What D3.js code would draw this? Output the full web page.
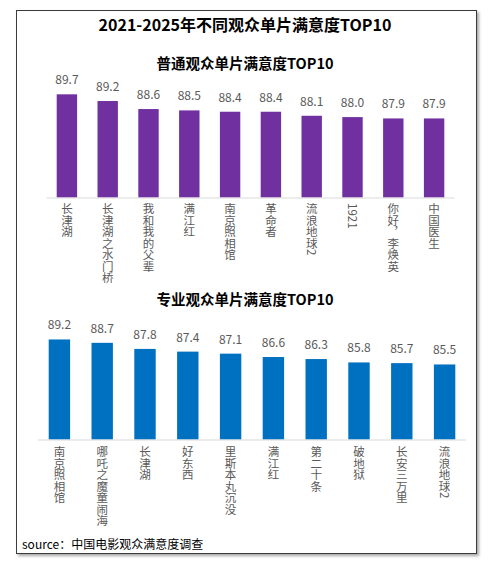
<!DOCTYPE html>
<html>
<head>
<meta charset="utf-8">
<script src="https://cdn.jsdelivr.net/npm/d3@7"></script>
<style>
  html, body { margin: 0; padding: 0; background: #fff; }
  svg { display: block; font-family: "Noto Sans CJK SC", "Noto Sans", sans-serif; }
</style>
</head>
<body>
<div id="chart"></div>
<script>
// 普通观众
const generalFilms = ["长津湖", "长津湖之水门桥", "我和我的父辈", "满江红", "南京照相馆", "革命者", "流浪地球2", "1921", "你好，李焕英", "中国医生"];
const generalScores = [89.7, 89.2, 88.6, 88.5, 88.4, 88.4, 88.1, 88.0, 87.9, 87.9];

// 专业观众
const proFilms = ["南京照相馆", "哪吒之魔童闹海", "长津湖", "好东西", "里斯本丸沉没", "满江红", "第二十条", "破地狱", "长安三万里", "流浪地球2"];
const proScores = [89.2, 88.7, 87.8, 87.4, 87.1, 86.6, 86.3, 85.8, 85.7, 85.5];

const mainTitle = "2021-2025年不同观众单片满意度TOP10";
const generalTitle = "普通观众单片满意度TOP10";
const proTitle = "专业观众单片满意度TOP10";
const sourceText = "source：中国电影观众满意度调查";

const width = 489, height = 565;

const svg = d3.select("#chart").append("svg")
    .attr("width", width)
    .attr("height", height);

const defs = svg.append("defs");
const shadow = defs.append("filter")
    .attr("id", "shadow")
    .attr("x", "-5%").attr("y", "-5%")
    .attr("width", "110%").attr("height", "110%");
shadow.append("feDropShadow")
    .attr("dx", 2).attr("dy", 2)
    .attr("stdDeviation", 1.5)
    .attr("flood-color", "#000")
    .attr("flood-opacity", 0.35);

// outer frame
svg.append("rect")
    .attr("x", 16.5).attr("y", 10.5)
    .attr("width", 460).attr("height", 543)
    .attr("fill", "#fff")
    .attr("stroke", "#3a3a3a")
    .attr("stroke-width", 1)
    .attr("filter", "url(#shadow)");

svg.append("text")
    .attr("x", 245).attr("y", 31)
    .attr("text-anchor", "middle")
    .style("font-size", "16px")
    .style("font-weight", "bold")
    .style("fill", "#000")
    .text(mainTitle);

function drawPanel(opts) {
    const g = svg.append("g");

    g.append("text")
        .attr("x", 245).attr("y", opts.titleY)
        .attr("text-anchor", "middle")
        .style("font-size", "14.5px")
        .style("font-weight", "bold")
        .style("fill", "#000")
        .text(opts.title);

    const x = d3.scaleBand()
        .domain(opts.films)
        .range(opts.xRange)
        .paddingInner(0.5)
        .paddingOuter(0.25);

    const y = d3.scaleLinear()
        .domain(opts.yDomain)
        .range([opts.baseline, opts.baseline - (opts.yDomain[1] - opts.yDomain[0]) * opts.pxPerUnit]);

    const data = opts.films.map((f, i) => ({ film: f, value: opts.scores[i] }));

    g.selectAll("rect.bar")
        .data(data)
        .enter()
        .append("rect")
        .attr("class", "bar")
        .attr("x", d => x(d.film))
        .attr("y", d => y(d.value))
        .attr("width", x.bandwidth())
        .attr("height", d => y(opts.yDomain[0]) - y(d.value))
        .style("fill", opts.color);

    // axis line
    g.append("line")
        .attr("x1", opts.xRange[0]).attr("x2", opts.xRange[1])
        .attr("y1", opts.baseline + 0.5).attr("y2", opts.baseline + 0.5)
        .attr("stroke", "#d9d9d9")
        .attr("stroke-width", 1);

    g.selectAll("text.value")
        .data(data)
        .enter()
        .append("text")
        .attr("class", "value")
        .attr("x", d => x(d.film) + x.bandwidth() / 2)
        .attr("y", d => y(d.value) - 10)
        .attr("text-anchor", "middle")
        .style("font-size", "12px")
        .style("fill", "#595959")
        .text(d => d.value.toFixed(1));

    g.selectAll("text.cat")
        .data(data)
        .enter()
        .append("text")
        .attr("class", "cat")
        .attr("x", d => x(d.film) + x.bandwidth() / 2)
        .attr("y", opts.labelTop)
        .style("writing-mode", "vertical-rl")
        .style("font-size", "11.5px")
        .style("fill", "#595959")
        .text(d => d.film);
}

drawPanel({
    films: generalFilms,
    scores: generalScores,
    color: "#7030a0",
    title: generalTitle,
    titleY: 69,
    xRange: [46.5, 454.5],
    baseline: 197.5,
    yDomain: [82, 90],
    pxPerUnit: 13.4,
    labelTop: 203
});

drawPanel({
    films: proFilms,
    scores: proScores,
    color: "#0070c0",
    title: proTitle,
    titleY: 305,
    xRange: [38, 466],
    baseline: 439.5,
    yDomain: [74.4, 90],
    pxPerUnit: 6.76,
    labelTop: 446
});

svg.append("text")
    .attr("x", 22).attr("y", 549)
    .style("font-size", "12px")
    .style("fill", "#000")
    .text(sourceText);
</script>
</body>
</html>
